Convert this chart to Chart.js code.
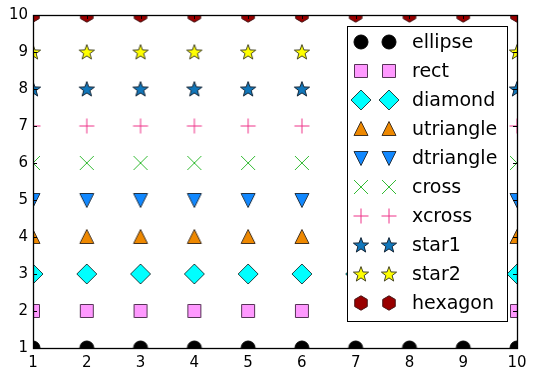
<!DOCTYPE html>
<html><head><meta charset="utf-8">
<script src="https://cdn.jsdelivr.net/npm/chart.js@4.4.1/dist/chart.umd.min.js"></script>
<style>html,body{margin:0;padding:0;background:#fff}#wrap{width:537px;height:378px}</style>
</head><body><div id="wrap"><canvas id="c" width="537" height="378"></canvas></div>
<script>
// ---- data ----
const xValues = [1, 2, 3, 4, 5, 6, 7, 8, 9, 10];
const seriesNames = ['ellipse', 'rect', 'diamond', 'utriangle', 'dtriangle', 'cross', 'xcross', 'star1', 'star2', 'hexagon'];
const seriesLevels = [1, 2, 3, 4, 5, 6, 7, 8, 9, 10];
const xTicks = [1, 2, 3, 4, 5, 6, 7, 8, 9, 10];
const yTicks = [1, 2, 3, 4, 5, 6, 7, 8, 9, 10];

// ---- styles ----
const markerStyles = {
  ellipse:   {shape: 'circle',  fill: '#000000', edge: '#000000'},
  rect:      {shape: 'square',  fill: '#ff99ff', edge: '#553355'},
  diamond:   {shape: 'diamond', fill: '#00ffff', edge: '#224444'},
  utriangle: {shape: 'utri',    fill: '#ee8800', edge: '#443322'},
  dtriangle: {shape: 'dtri',    fill: '#1188ff', edge: '#223344'},
  cross:     {shape: 'x',       fill: null,      edge: '#33bb33'},
  xcross:    {shape: 'plus',    fill: null,      edge: '#ee3388'},
  star1:     {shape: 'star',    fill: '#1177bb', edge: '#112233'},
  star2:     {shape: 'star',    fill: '#ffff00', edge: '#444422'},
  hexagon:   {shape: 'hex',     fill: '#990000', edge: '#441111'}
};
const FONT = "'DejaVu Sans', sans-serif";

function makeMarker(st) {
  const S = 24, c = document.createElement('canvas');
  c.width = S; c.height = S;
  const g = c.getContext('2d');
  const m = S / 2;
  g.translate(m, m);
  g.lineWidth = 1;
  g.strokeStyle = st.edge;
  g.beginPath();
  switch (st.shape) {
    case 'circle': g.arc(0, 0, 7, 0, Math.PI * 2); break;
    case 'square': g.rect(-6.5, -6.5, 13, 13); break;
    case 'diamond': g.moveTo(0, -10); g.lineTo(10, 0); g.lineTo(0, 10); g.lineTo(-10, 0); g.closePath(); break;
    case 'utri': g.moveTo(0, -7.5); g.lineTo(7, 6.5); g.lineTo(-7, 6.5); g.closePath(); break;
    case 'dtri': g.moveTo(0, 7.5); g.lineTo(7, -6.5); g.lineTo(-7, -6.5); g.closePath(); break;
    case 'x': g.moveTo(-7, -7); g.lineTo(7, 7); g.moveTo(7, -7); g.lineTo(-7, 7); break;
    case 'plus': g.moveTo(-7.5, 0); g.lineTo(7.5, 0); g.moveTo(0, -7.5); g.lineTo(0, 7.5); break;
    case 'star':
      for (let i = 0; i < 10; i++) {
        const r = i % 2 === 0 ? 8 : 3.3;
        const a = -Math.PI / 2 + i * Math.PI / 5;
        const px = r * Math.cos(a), py = r * Math.sin(a) + 0.6;
        if (i === 0) g.moveTo(px, py); else g.lineTo(px, py);
      }
      g.closePath(); break;
    case 'hex':
      for (let i = 0; i < 6; i++) {
        const a = -Math.PI / 2 + i * Math.PI / 3;
        const px = 7.2 * Math.cos(a), py = 7.2 * Math.sin(a);
        if (i === 0) g.moveTo(px, py); else g.lineTo(px, py);
      }
      g.closePath(); break;
  }
  if (st.fill) { g.fillStyle = st.fill; g.fill(); }
  g.stroke();
  return c;
}
const markerImgs = {};
seriesNames.forEach(n => markerImgs[n] = makeMarker(markerStyles[n]));

const datasets = seriesNames.map((name, i) => ({
  label: name,
  data: xValues.map(x => ({x: x, y: seriesLevels[i]})),
  pointStyle: markerImgs[name],
  pointRadius: 8,
  pointHoverRadius: 8,
  showLine: false,
  clip: 0
}));

const framePlugin = {
  id: 'frame',
  afterDraw(chart) {
    const ctx = chart.ctx, a = chart.chartArea;
    const xs = chart.scales.x, ys = chart.scales.y;
    ctx.save();
    ctx.strokeStyle = '#000';
    ctx.lineWidth = 1;
    // inward ticks
    ctx.beginPath();
    xTicks.forEach(v => {
      const px = Math.round(xs.getPixelForValue(v)) + 0.5;
      ctx.moveTo(px, a.bottom); ctx.lineTo(px, a.bottom - 4);
      ctx.moveTo(px, a.top); ctx.lineTo(px, a.top + 4);
    });
    yTicks.forEach(v => {
      const py = Math.round(ys.getPixelForValue(v)) + 0.5;
      ctx.moveTo(a.left, py); ctx.lineTo(a.left + 4, py);
      ctx.moveTo(a.right, py); ctx.lineTo(a.right - 4, py);
    });
    ctx.stroke();
    ctx.lineWidth = 1.3;
    ctx.strokeRect(Math.round(a.left) + 0.5, Math.round(a.top) + 0.5, Math.round(a.right - a.left), Math.round(a.bottom - a.top));
    // legend
    const L = 347, T = 26, R = 507, B = 321;
    ctx.fillStyle = '#fff';
    ctx.fillRect(L, T, R - L, B - T);
    ctx.lineWidth = 1;
    ctx.strokeRect(L + 0.5, T + 0.5, R - L, B - T);
    ctx.font = '19px ' + FONT;
    ctx.textBaseline = 'middle';
    ctx.textAlign = 'left';
    seriesNames.forEach((name, i) => {
      const cy = 42 + i * 29;
      const img = markerImgs[name];
      [361, 389].forEach(cx => ctx.drawImage(img, Math.round(cx - img.width / 2), Math.round(cy - img.height / 2)));
      ctx.fillStyle = '#000';
      ctx.fillText(name, 412, cy + 1);
    });
    ctx.restore();
  }
};

new Chart(document.getElementById('c'), {
  type: 'scatter',
  data: {datasets},
  options: {
    responsive: false,
    animation: false,
    events: [],
    layout: {padding: {top: 15, right: 20, left: 0, bottom: 0}},
    plugins: {legend: {display: false}, tooltip: {enabled: false}},
    scales: {
      x: {
        type: 'linear', min: 1, max: 10,
        grid: {display: false, drawTicks: false},
        border: {display: false},
        ticks: {stepSize: 1, color: '#000', font: {family: FONT, size: 15}, padding: 6, maxRotation: 0,
                callback: v => xTicks.includes(v) ? String(v) : ''},
        afterFit: s => { s.height = 30; }
      },
      y: {
        type: 'linear', min: 1, max: 10,
        grid: {display: false, drawTicks: false},
        border: {display: false},
        ticks: {stepSize: 1, color: '#000', font: {family: FONT, size: 15}, padding: 5,
                callback: v => yTicks.includes(v) ? String(v) : ''},
        afterFit: s => { s.width = 33; }
      }
    }
  },
  plugins: [framePlugin]
});
</script>
</body></html>
